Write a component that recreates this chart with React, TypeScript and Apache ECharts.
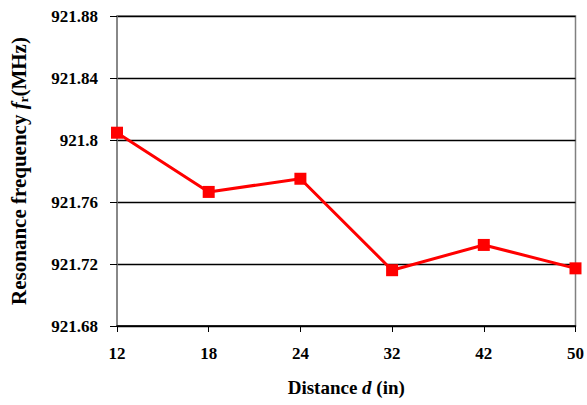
import React, { useEffect, useRef } from "react";
import * as echarts from "echarts";

const categories = ["12", "18", "24", "32", "42", "50"];
const frequency = [921.8047, 921.7665, 921.775, 921.716, 921.7323, 921.7172];
const yMin = 921.68;
const yMax = 921.88;
const yStep = 0.04;

export default function App() {
  const ref = useRef<HTMLDivElement>(null);
  useEffect(() => {
    if (!ref.current) return;
    const chart = echarts.init(ref.current, null, { renderer: "svg" });
    const font = "Times New Roman, Liberation Serif, DejaVu Serif, serif";
    chart.setOption({
      animation: false,
      backgroundColor: "#ffffff",
      textStyle: { fontFamily: font },
      grid: {
        left: 111,
        right: 9,
        top: 16,
        bottom: 79,
        show: true,
        borderColor: "#808080",
        borderWidth: 1.5,
      },
      xAxis: {
        type: "category",
        data: categories,
        boundaryGap: false,
        axisLine: { lineStyle: { color: "#000", width: 1.5 } },
        axisTick: { show: true, length: 6, lineStyle: { color: "#000" } },
        axisLabel: {
          color: "#000",
          fontFamily: font,
          fontWeight: "bold",
          fontSize: 17,
          margin: 19,
        },
        splitLine: { show: false },
        name: "{t|Distance }{i|d}{t| (in)}",
        nameLocation: "middle",
        nameGap: 52,
        nameTextStyle: {
          fontFamily: font,
          rich: {
            t: { fontFamily: font, fontWeight: "bold", fontSize: 19, color: "#000" },
            i: { fontFamily: font, fontWeight: "bold", fontStyle: "italic", fontSize: 19, color: "#000" },
          },
        },
      },
      yAxis: {
        type: "value",
        min: yMin,
        max: yMax,
        interval: yStep,
        axisLine: { show: true, lineStyle: { color: "#808080", width: 1.5 } },
        axisTick: { show: true, length: 7, lineStyle: { color: "#000" } },
        axisLabel: {
          color: "#000",
          fontFamily: font,
          fontWeight: "bold",
          fontSize: 17,
          margin: 19,
          formatter: (v: number) => String(parseFloat(v.toFixed(2))),
        },
        splitLine: { show: true, lineStyle: { color: "#000", width: 1.3 } },
        name: "{t|Resonance frequency }{i|f}{s|r}{t|(MHz)}",
        nameLocation: "middle",
        nameGap: 87,
        nameRotate: 90,
        nameTextStyle: {
          fontFamily: font,
          rich: {
            t: { fontFamily: font, fontWeight: "bold", fontSize: 21, color: "#000" },
            i: { fontFamily: font, fontWeight: "bold", fontStyle: "italic", fontSize: 21, color: "#000" },
            s: { fontFamily: font, fontWeight: "bold", fontSize: 13, color: "#000", padding: [10, 0, 0, 0] },
          },
        },
      },
      series: [
        {
          type: "line",
          data: frequency,
          symbol: "rect",
          symbolSize: 12,
          itemStyle: { color: "#ff0000" },
          lineStyle: { color: "#ff0000", width: 3 },
        },
      ],
    });
    return () => chart.dispose();
  }, []);
  return <div ref={ref} style={{ width: 587, height: 405, position: "absolute", left: 0, top: 0 }} />;
}
